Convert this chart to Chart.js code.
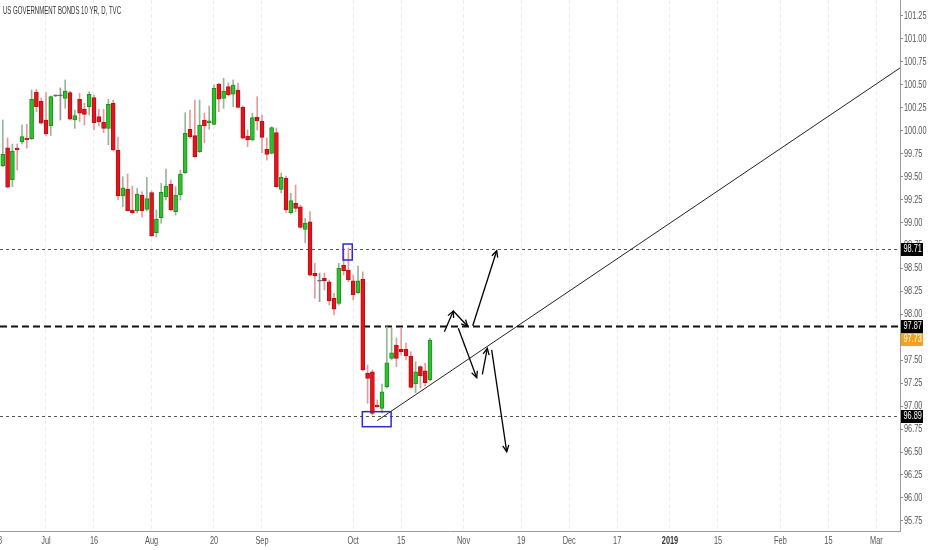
<!DOCTYPE html>
<html lang="en">
<head>
<meta charset="UTF-8" />
<title>US Government Bonds 10 YR | Daily</title>
<style>
  body { margin: 0; background: #fff; }
  #wrap { width: 932px; height: 550px; }
</style>
</head>
<body>
<div id="wrap"><canvas id="bondChart" width="932" height="550"></canvas></div>

<script src="https://cdn.jsdelivr.net/npm/chart.js"></script>
<script>
  // trading-day index of the first candle (0 = Jul 2, 2018)
  const firstDay = -9;

  const opens = [99.619, 99.815, 99.463, 99.812, 99.881, 99.921, 99.913, 100.422, 100.321,
    100.117, 100.055, 100.380, 100.380, 100.353, 100.415, 100.117, 100.343, 100.237, 100.262,
    100.360, 100.153, 100.095, 100.026, 100.299, 99.790, 99.289, 99.362, 99.137, 99.129,
    99.300, 99.144, 99.325, 98.889, 99.053, 99.281, 99.420, 99.118, 99.300, 99.543,
    100.016, 99.946, 99.772, 100.117, 100.087, 100.070, 100.509, 100.353, 100.480, 100.397,
    100.444, 100.255, 99.943, 99.899, 100.146, 100.106, 99.798, 99.754, 99.979, 99.362,
    99.482, 99.107, 99.210, 99.172, 98.926, 99.009, 98.447, 98.366, 98.392, 98.355,
    98.175, 98.120, 98.537, 98.483, 98.366, 98.236, 98.382, 97.358, 97.375, 97.012,
    96.976, 97.212, 97.521, 97.666, 97.619, 97.619, 97.546, 97.241, 97.430, 97.386, 97.285];

  const highs = [100.117, 99.921, 99.855, 99.855, 100.062, 100.070, 100.444, 100.452, 100.357,
    100.415, 100.379, 100.390, 100.466, 100.553, 100.433, 100.226, 100.408, 100.299, 100.425,
    100.389, 100.234, 100.234, 100.343, 100.335, 99.932, 99.499, 99.529, 99.398, 99.373,
    99.336, 99.493, 99.343, 99.137, 99.427, 99.583, 99.463, 99.390, 99.572, 100.196,
    100.226, 100.335, 100.335, 100.193, 100.269, 100.498, 100.517, 100.571, 100.523, 100.553,
    100.520, 100.269, 100.008, 100.190, 100.371, 100.171, 99.921, 100.044, 100.030, 99.540,
    99.507, 99.318, 99.409, 99.191, 99.046, 99.118, 98.556, 98.450, 98.450, 98.374,
    98.229, 98.556, 98.719, 98.723, 98.428, 98.527, 98.464, 97.448, 97.394, 97.067,
    97.241, 97.865, 97.851, 97.742, 97.851, 97.688, 97.593, 97.484, 97.437, 97.467, 97.739];

  const lows = [99.608, 99.376, 99.390, 99.572, 99.855, 99.812, 99.904, 100.207, 100.073,
    99.950, 99.950, 100.370, 100.117, 100.244, 100.117, 100.026, 100.098, 100.062, 100.171,
    100.008, 100.052, 99.979, 99.845, 99.779, 99.245, 99.172, 99.126, 99.093, 99.104,
    99.060, 99.126, 98.846, 98.842, 98.992, 99.245, 99.126, 99.082, 99.245, 99.534,
    99.918, 99.708, 99.763, 99.870, 100.016, 100.062, 100.207, 100.244, 100.379, 100.262,
    100.248, 99.910, 99.826, 99.888, 100.008, 99.761, 99.681, 99.747, 99.382, 99.322,
    99.107, 99.093, 99.115, 98.940, 98.780, 98.418, 98.175, 98.138, 98.265, 98.102,
    97.993, 98.102, 98.428, 98.355, 98.156, 98.227, 97.383, 97.031, 96.903, 96.980,
    96.925, 97.198, 97.503, 97.430, 97.557, 97.503, 97.198, 97.146, 97.198, 97.220, 97.274];

  const closes = [99.743, 99.384, 99.779, 99.790, 99.935, 99.902, 100.346, 100.262, 100.081,
    99.964, 100.371, 100.384, 100.384, 100.433, 100.125, 100.164, 100.190, 100.179, 100.397,
    100.087, 100.095, 100.026, 100.288, 99.790, 99.289, 99.379, 99.129, 99.107, 99.311,
    99.129, 99.260, 98.853, 99.038, 99.329, 99.398, 99.137, 99.300, 99.529, 99.972,
    99.935, 99.717, 100.062, 100.055, 100.109, 100.462, 100.343, 100.433, 100.389, 100.498,
    100.255, 99.918, 99.899, 100.142, 100.106, 99.928, 99.743, 100.033, 99.390, 99.493,
    99.137, 99.238, 99.155, 98.948, 98.992, 98.428, 98.418, 98.360, 98.366, 98.145,
    98.055, 98.502, 98.475, 98.374, 98.211, 98.366, 97.394, 97.303, 96.922, 96.994,
    97.157, 97.473, 97.582, 97.521, 97.593, 97.546, 97.205, 97.375, 97.328, 97.255, 97.720];

  // x axis: trading-day index -> label
  const xTickDays = [-10, 0, 10, 22, 35, 45, 64, 74, 87, 99, 109, 119, 130, 140, 153, 163, 173];
  const xTickLabels = ['18', 'Jul', '16', 'Aug', '20', 'Sep', 'Oct', '15', 'Nov', '19', 'Dec', '17', '2019', '15', 'Feb', '15', 'Mar'];

  const yTicks = [95.75, 96.00, 96.25, 96.50, 96.75, 97.00, 97.25, 97.50, 97.75, 98.00, 98.25, 98.50,
    98.75, 99.00, 99.25, 99.50, 99.75, 100.00, 100.25, 100.50, 100.75, 101.00, 101.25];

  // drawings on the chart (day index, price)
  const levels = [98.71, 97.87, 96.89];
  const lastPrice = 97.73;
  const trendLine = [69.0, 96.842, 177.9, 100.683];
  const arrows = [
    [83.0, 97.811, 84.85, 98.036],
    [84.85, 98.036, 87.85, 97.870],
    [88.9, 97.876, 93.9, 98.693],
    [85.9, 97.848, 89.73, 97.310],
    [90.9, 97.347, 91.94, 97.630],
    [92.85, 97.612, 95.98, 96.504]
  ];
  const boxes = [
    [61.9, 98.766, 63.8, 98.592],
    [65.9, 96.940, 71.9, 96.776]
  ];

  const FONT = "'Liberation Sans', Arial, sans-serif";
  const NARROW = 0.7; // the screenshot's text is quite condensed

  const upColor = '#2ec02e', downColor = '#e3141b', flatColor = '#666';
  const bodyColors = opens.map((o, i) => Math.abs(closes[i] - o) < 0.008 ? flatColor : (closes[i] > o ? upColor : downColor));
  const bodyBorders = opens.map((o, i) => Math.abs(closes[i] - o) < 0.008 ? flatColor : (closes[i] > o ? '#1d8f1d' : '#b80e14'));
  const wickColors = opens.map((o, i) => Math.abs(closes[i] - o) < 0.008 ? '#999' : (closes[i] > o ? '#93b893' : '#e59a9a'));

  const bodies = opens.map((o, i) => ({ x: firstDay + i, y: [o, closes[i]] }));
  const wicks = lows.map((l, i) => ({ x: firstDay + i, y: [l, highs[i]] }));

  function arrowHead(ctx, x1, y1, x2, y2) {
    const ang = Math.atan2(y2 - y1, x2 - x1);
    const len = 7, spread = 0.45;
    ctx.beginPath();
    ctx.moveTo(x2 - len * Math.cos(ang - spread), y2 - len * Math.sin(ang - spread));
    ctx.lineTo(x2, y2);
    ctx.lineTo(x2 - len * Math.cos(ang + spread), y2 - len * Math.sin(ang + spread));
    ctx.stroke();
  }

  function narrowText(ctx, text, x, y, sx) {
    ctx.save();
    ctx.translate(x, y);
    ctx.scale(sx, 1);
    ctx.fillText(text, 0, 0);
    ctx.restore();
  }

  const markup = {
    id: 'markup',
    beforeDatasetsDraw(chart) {
      const { ctx, chartArea: a, scales: { y } } = chart;
      ctx.save();
      ctx.beginPath();
      ctx.rect(a.left, a.top, a.right - a.left, a.bottom - a.top);
      ctx.clip();
      // horizontal levels
      levels.forEach((lv, k) => {
        const py = Math.round(y.getPixelForValue(lv)) + 0.5;
        ctx.beginPath();
        if (k === 1) { ctx.setLineDash([7, 4]); ctx.lineWidth = 2; ctx.strokeStyle = '#111'; }
        else { ctx.setLineDash([3, 3]); ctx.lineWidth = 1; ctx.strokeStyle = '#555'; }
        ctx.moveTo(a.left, py);
        ctx.lineTo(a.right, py);
        ctx.stroke();
      });
      ctx.restore();
    },
    afterDatasetsDraw(chart) {
      const { ctx, chartArea: a, scales: { x, y } } = chart;
      ctx.save();
      ctx.beginPath();
      ctx.rect(a.left, a.top, a.right - a.left, a.bottom - a.top);
      ctx.clip();
      ctx.setLineDash([]);
      // trend line
      ctx.strokeStyle = '#222';
      ctx.lineWidth = 1;
      ctx.beginPath();
      ctx.moveTo(x.getPixelForValue(trendLine[0]), y.getPixelForValue(trendLine[1]));
      ctx.lineTo(x.getPixelForValue(trendLine[2]), y.getPixelForValue(trendLine[3]));
      ctx.stroke();
      // arrows
      ctx.strokeStyle = '#000';
      ctx.lineWidth = 1.3;
      arrows.forEach(([d1, p1, d2, p2]) => {
        const x1 = x.getPixelForValue(d1), y1 = y.getPixelForValue(p1);
        const x2 = x.getPixelForValue(d2), y2 = y.getPixelForValue(p2);
        ctx.beginPath();
        ctx.moveTo(x1, y1);
        ctx.lineTo(x2, y2);
        ctx.stroke();
        arrowHead(ctx, x1, y1, x2, y2);
      });
      // blue boxes
      ctx.strokeStyle = '#2a2ad8';
      ctx.lineWidth = 1.5;
      boxes.forEach(([d1, p1, d2, p2]) => {
        const x1 = x.getPixelForValue(d1), y1 = y.getPixelForValue(p1);
        const x2 = x.getPixelForValue(d2), y2 = y.getPixelForValue(p2);
        ctx.strokeRect(x1, y1, x2 - x1, y2 - y1);
      });
      ctx.restore();
    },
    afterDraw(chart) {
      const { ctx, chartArea: a, scales: { x, y } } = chart;
      ctx.save();
      ctx.textBaseline = 'middle';

      // price axis labels
      ctx.font = '10.5px ' + FONT;
      ctx.fillStyle = '#555';
      ctx.textAlign = 'left';
      yTicks.forEach(v => narrowText(ctx, v.toFixed(2), a.right + 4, Math.round(y.getPixelForValue(v)) + 0.5, NARROW));

      // time axis labels
      ctx.textAlign = 'center';
      xTickDays.forEach((d, i) => {
        const bold = xTickLabels[i] === '2019';
        ctx.font = (bold ? 'bold ' : '') + '10.5px ' + FONT;
        ctx.fillStyle = bold ? '#333' : '#555';
        narrowText(ctx, xTickLabels[i], x.getPixelForValue(d), a.bottom + 10, NARROW);
      });

      // price tags on the axis
      ctx.font = '10.5px ' + FONT;
      ctx.textAlign = 'left';
      const tags = levels.map(v => [v, '#000']).concat([[lastPrice, '#f7a21b']]);
      tags.forEach(([v, col]) => {
        let py = y.getPixelForValue(v);
        if (v === lastPrice) py = Math.max(py, y.getPixelForValue(levels[1]) + 13);
        ctx.fillStyle = col;
        ctx.fillRect(a.right + 1, Math.round(py) - 6, 22, 13);
        ctx.fillStyle = '#fff';
        narrowText(ctx, v.toFixed(2), a.right + 3.5, Math.round(py) + 0.5, NARROW);
      });

      // title
      ctx.fillStyle = '#333';
      ctx.font = '10.5px ' + FONT;
      const w = ctx.measureText('US GOVERNMENT BONDS 10 YR, D, TVC').width;
      narrowText(ctx, 'US GOVERNMENT BONDS 10 YR, D, TVC', 3, 11, 118 / w);
      ctx.restore();
    }
  };

  new Chart(document.getElementById('bondChart'), {
    type: 'bar',
    data: {
      datasets: [
        {
          label: 'Body',
          data: bodies,
          backgroundColor: bodyColors,
          borderColor: bodyBorders,
          borderWidth: 1,
          borderSkipped: false,
          barThickness: 4,
          minBarLength: 1,
          grouped: false,
          order: 0
        },
        {
          label: 'Wick',
          data: wicks,
          backgroundColor: wickColors,
          barThickness: 1,
          grouped: false,
          order: 1
        }
      ]
    },
    options: {
      responsive: false,
      animation: false,
      layout: { padding: 0 },
      plugins: { legend: { display: false }, tooltip: { enabled: false }, title: { display: false } },
      scales: {
        x: {
          type: 'linear',
          offset: false,
          min: -9.583,
          max: 177.917,
          afterFit: s => { s.height = 19; s.paddingLeft = 0; s.paddingRight = 0; },
          afterBuildTicks: s => { s.ticks = xTickDays.map(v => ({ value: v })); },
          grid: { offset: false, color: '#ececec', drawTicks: false },
          border: { display: true, color: '#9a9a9a', width: 1, dash: [4, 3] },
          ticks: { display: false, autoSkip: false }
        },
        y: {
          position: 'right',
          min: 95.64,
          max: 101.424,
          afterFit: s => { s.width = 32; s.paddingTop = 0; s.paddingBottom = 0; },
          afterBuildTicks: s => { s.ticks = yTicks.map(v => ({ value: v })); },
          grid: { drawOnChartArea: false, drawTicks: true, tickLength: 3, color: '#888' },
          border: { display: true, color: '#9a9a9a', width: 1 },
          ticks: { display: false }
        }
      }
    },
    plugins: [markup]
  });
</script>
</body>
</html>
